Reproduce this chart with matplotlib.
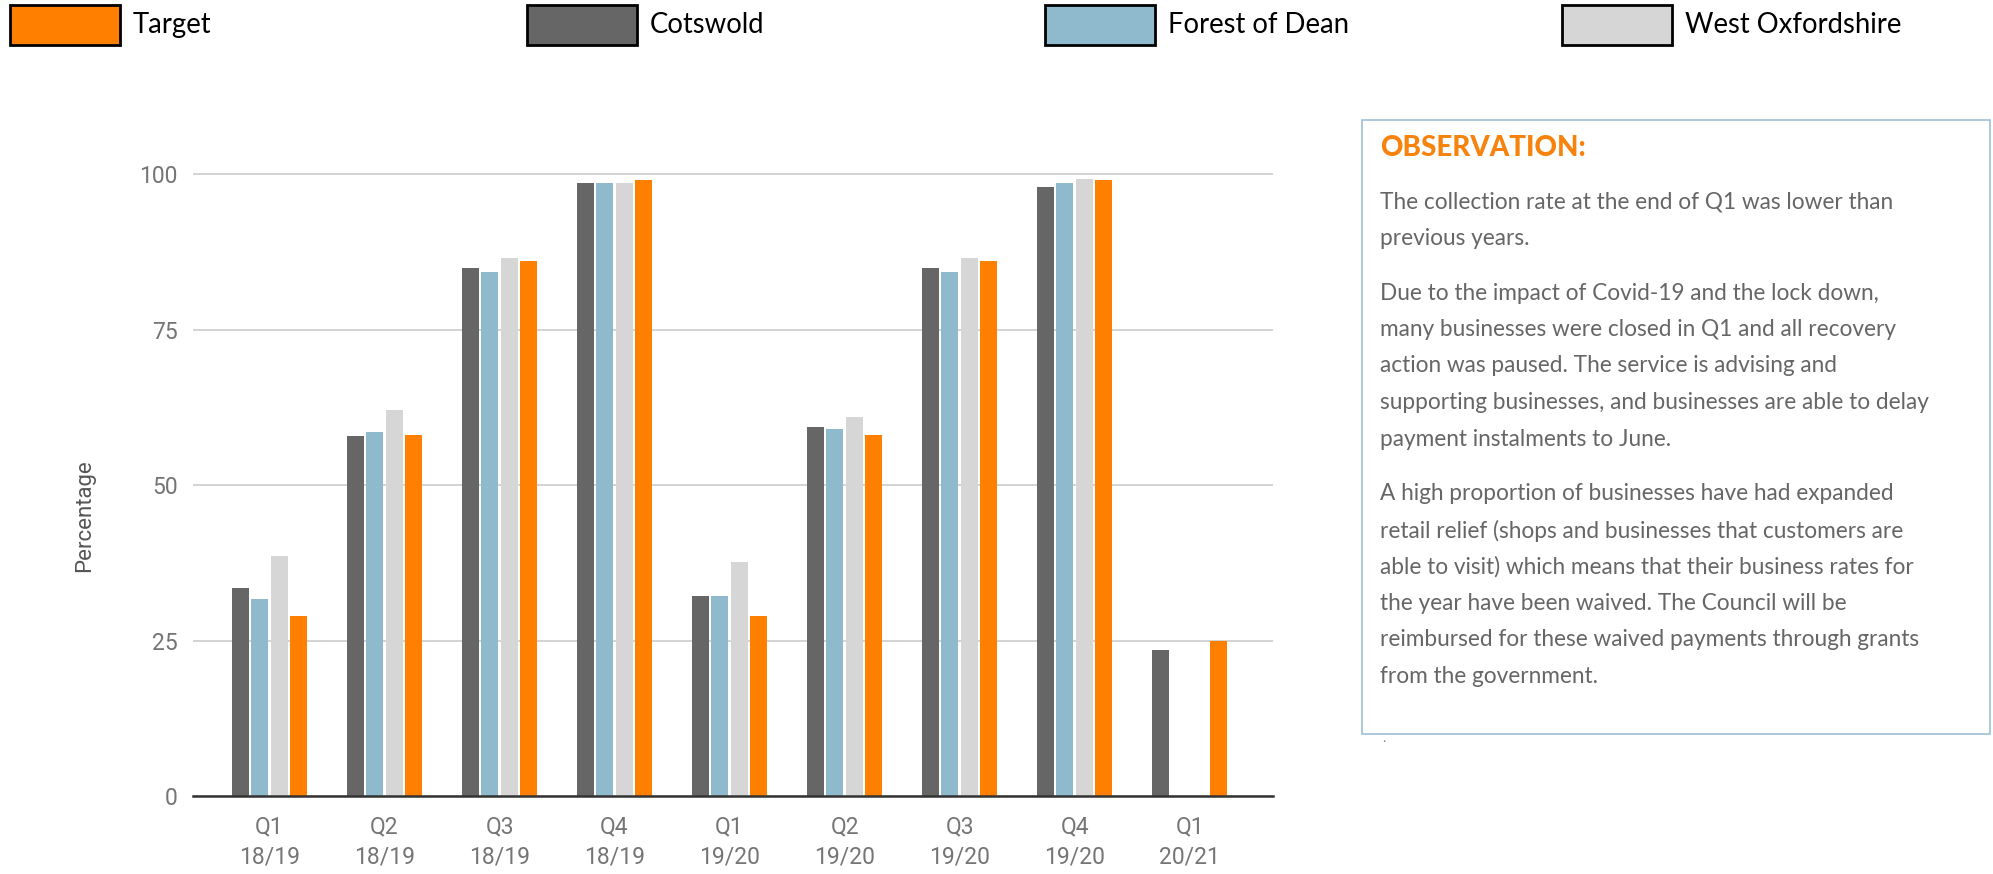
import numpy as np
import matplotlib
matplotlib.use("Agg")
from matplotlib import pyplot as plt
from matplotlib.patches import Rectangle

quarters = ["Q1\n18/19", "Q2\n18/19", "Q3\n18/19", "Q4\n18/19",
            "Q1\n19/20", "Q2\n19/20", "Q3\n19/20", "Q4\n19/20", "Q1\n20/21"]
cotswold = [33.4, 57.9, 84.9, 98.6, 32.1, 59.3, 84.9, 97.9, 23.4]
forest_of_dean = [31.7, 58.6, 84.2, 98.6, 32.1, 59.0, 84.2, 98.6, np.nan]
west_oxfordshire = [38.6, 62.1, 86.6, 98.6, 37.6, 61.0, 86.6, 99.3, np.nan]
target = [29, 58, 86, 99, 29, 58, 86, 99, 25]

legend_names = ["Target", "Cotswold", "Forest of Dean", "West Oxfordshire"]
obs_title = "OBSERVATION:"
obs_paragraphs = [
    ["The collection rate at the end of Q1 was lower than",
     "previous years."],
    ["Due to the impact of Covid-19 and the lock down,",
     "many businesses were closed in Q1 and all recovery",
     "action was paused. The service is advising and",
     "supporting businesses, and businesses are able to delay",
     "payment instalments to June."],
    ["A high proportion of businesses have had expanded",
     "retail relief (shops and businesses that customers are",
     "able to visit) which means that their business rates for",
     "the year have been waived. The Council will be",
     "reimbursed for these waived payments through grants",
     "from the government."],
]

ORANGE = "#ff7f00"
DARK = "#666666"
BLUE = "#8fb9cc"
LIGHT = "#d6d6d6"

W, H = 1993, 874


def fx(x):
    return x / W


def fy(y):
    return 1 - y / H


fig = plt.figure(figsize=(W / 100, H / 100), dpi=100)
fig.patch.set_facecolor("white")

# ---- bar chart
ax = fig.add_axes([fx(193), 78 / H, 1080 / W, 684 / H])
x = np.arange(len(quarters))
step = 0.168
width = 0.148
series = [(cotswold, DARK), (forest_of_dean, BLUE),
          (west_oxfordshire, LIGHT), (target, ORANGE)]
for k, (vals, col) in enumerate(series):
    ax.bar(x + (k - 1.5) * step, vals, width, color=col, zorder=3)

ax.set_xlim(-0.665, 8.725)
ax.set_ylim(0, 110)
ax.set_yticks([0, 25, 50, 75, 100])
ax.yaxis.grid(True, color="#cccccc", linewidth=1.2)
ax.set_axisbelow(True)
for s in ["top", "right", "left"]:
    ax.spines[s].set_visible(False)
ax.spines["bottom"].set_color("#333333")
ax.spines["bottom"].set_linewidth(1.8)
ax.spines["bottom"].set_zorder(4)

ax.set_xticks(x)
ax.set_xticklabels(quarters, linespacing=1.4)
ax.tick_params(axis="both", length=0, labelcolor="#757575", labelsize=16.5)
ax.tick_params(axis="x", pad=14)
ax.tick_params(axis="y", pad=11)
for lab in ax.get_xticklabels() + ax.get_yticklabels():
    lab.set_fontfamily("Roboto")

fig.text(fx(85), fy(516), "Percentage", rotation=90, ha="center", va="center",
         fontsize=16, color="#555555", family="Roboto")

# ---- legend across the top
legend_cols = [ORANGE, DARK, BLUE, LIGHT]
legend_x = [10, 527, 1045, 1562]
for name, col, lx in zip(legend_names, legend_cols, legend_x):
    fig.patches.append(Rectangle((fx(lx), fy(45)), 110 / W, 40 / H,
                                 transform=fig.transFigure, facecolor=col,
                                 edgecolor="black", linewidth=2.0))
    fig.text(fx(lx + 123), fy(25), name, ha="left", va="center",
             fontsize=19.8, color="black", family="Lato")

# ---- observation box
fig.patches.append(Rectangle((fx(1362), fy(734)), 628 / W, 614 / H,
                             transform=fig.transFigure, facecolor="white",
                             edgecolor="#a3c6da", linewidth=1.3))
fig.text(fx(1380), fy(148), obs_title, ha="left", va="center",
         fontsize=20, fontweight="black", color="#f7820c", family="Lato")

line_gap = 36.5
starts = [202, 293, 494]
for y0, para in zip(starts, obs_paragraphs):
    for i, line in enumerate(para):
        fig.text(fx(1380), fy(y0 + i * line_gap), line, ha="left", va="center",
                 fontsize=16.3, color="#666666", family="Lato")
fig.text(fx(1382), fy(738), ".", ha="left", va="center", fontsize=10,
         color="#888888", family="Lato")

fig.savefig("out.png", dpi=100)
